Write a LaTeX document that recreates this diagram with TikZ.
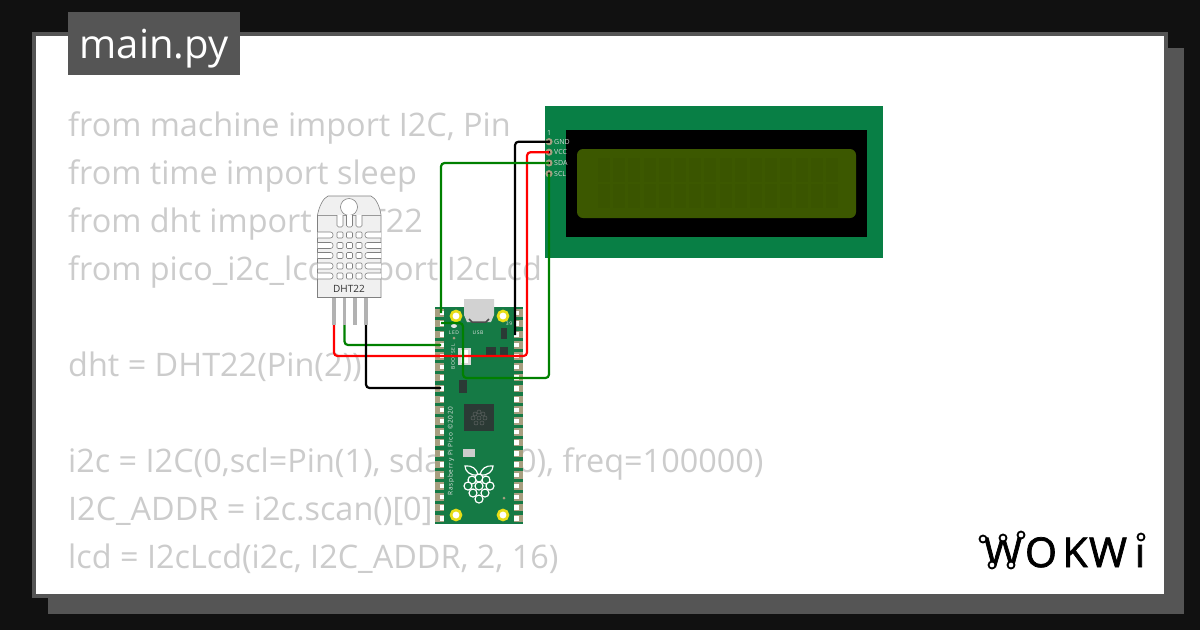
\documentclass[tikz,border=0pt]{standalone}
\usepackage{fontspec}
\setmainfont{Open Sans}
\newfontfamily\logofont[FakeBold=1.8]{Open Sans}
\newfontfamily\silkfont[LetterSpace=12]{Open Sans}
\usetikzlibrary{positioning}
\definecolor{pageblack}{HTML}{111111}
\definecolor{framegray}{HTML}{555555}
\definecolor{codegray}{HTML}{CCCCCC}
\definecolor{lcdgreen}{HTML}{087F45}
\definecolor{lcdscreen}{HTML}{3C5800}
\definecolor{lcdcell}{HTML}{3A5500}
\definecolor{picogreen}{HTML}{157A45}
\definecolor{padtan}{HTML}{A89F80}
\definecolor{chipdark}{HTML}{2B3A35}
\definecolor{wiregreen}{HTML}{008000}
\tikzset{
    codeline/.style={
                anchor=base west,
                inner sep=0pt,
                text=codegray,
                font=\fontsize{32.4}{32.4}\selectfont
            },
    wire/.style={
                line width=2.2pt,
                rounded corners=3.5pt
            },
    pinlabel/.style={
                anchor=west,
                inner sep=0pt,
                text=white!85!black,
                font=\fontsize{7}{7}\selectfont
            },
    silk/.style={
                inner sep=0pt,
                text=white!90!black,
                font=\silkfont\fontsize{5}{5}\selectfont
            },
    chip/.style={fill=chipdark,draw=none},
    mounthole/.style={circle,draw=yellow!90!black,fill=white,line width=2.6pt,minimum size=10pt,inner sep=0pt},
    logoletter/.style={inner sep=0pt,anchor=base,text=black,font=\logofont\fontsize{41}{41}\selectfont},
    logodot/.style={circle,draw=black,fill=white,line width=1.8pt,minimum size=7pt,inner sep=0pt},
    berry/.style={draw=white,fill=picogreen,line width=1.2pt},
}

\begin{document}
\begin{tikzpicture}[x=1pt,y=-1pt]
  \useasboundingbox (0,0) rectangle (1200,630);
  % Frame
  \fill[pageblack] (0,0) rectangle (1200,630);
  \fill[framegray] (48,48) rectangle (1184,614);
  \draw[framegray,fill=white,line width=4pt] (34,34) rectangle (1166,596);
  \fill[framegray] (68,12) rectangle (240,75);
  \node[anchor=base,inner sep=0pt,text=white,font=\fontsize{40}{40}\selectfont] (tabname) at (154,58) {main.py};
  % Code
  \node[codeline] (code1) at (68,136) {from machine import I2C, Pin};
  \node[codeline] (code2) at (68,184) {from time import sleep};
  \node[codeline] (code3) at (68,232) {from dht import DHT22};
  \node[codeline] (code4) at (68,280) {from pico\_i2c\_lcd import I2cLcd};
  \node[codeline] (code6) at (68,376) {dht = DHT22(Pin(2))};
  \node[codeline] (code9) at (68,472) {i2c = I2C(0,scl=Pin(1), sda=Pin(0), freq=100000)};
  \node[codeline] (code10) at (68,520) {I2C\_ADDR = i2c.scan()[0]};
  \node[codeline] (code11) at (68,568) {lcd = I2cLcd(i2c, I2C\_ADDR, 2, 16)};
  % LCD
  \fill[lcdgreen] (545,106) rectangle (883,258);
  \fill[black] (566,130) rectangle (867,237);
  \fill[lcdscreen,rounded corners=6pt] (577,149) rectangle (856,218);
  \foreach \col in {0,...,15}
    \foreach \row in {0,1}
      \fill[lcdcell] (598+\col*15.2,158+\row*25.5) rectangle ++(12,24);
  \node[pinlabel] (lcdOne) at (547,133) {1};
  \foreach \pin/\ypos/\name in {Gnd/141.7/GND,Vcc/152.2/VCC,Sda/163/SDA,Scl/173.7/SCL}{
      \draw[padtan,fill=black,line width=2pt] (549,\ypos) circle (2.5pt);
      \coordinate (lcd\pin) at (549,\ypos);
      \node[pinlabel] (label\pin) at (554,\ypos) {\name};
    }
  % DHT22
  \foreach \xpos in {334,344.5,355,366}
    \fill[gray!60] (\xpos-1.7,298) rectangle (\xpos+1.7,325);
  \draw[gray,fill=white!94!black,line width=.6pt] (317.5,297.5) -- (317.5,215) .. controls (319,207) and (323,198) .. (328,196) -- (371,196) .. controls (376,198) and (380,207) .. (381,215) -- (381,297.5) -- cycle;
  \draw[gray!80,line width=.6pt] (317.5,215) -- (381,215);
  \draw[gray,fill=white,line width=.6pt] (349,207) circle (8.5pt);
  \foreach \xpos in {340,349.5,359}
    \draw[gray,fill=white,line width=.6pt,rounded corners=1.5pt] (\xpos-3,215) -- (\xpos-3,227) -- (\xpos+3,227) -- (\xpos+3,215);
  \foreach \ypos in {235,245.5,255.5,266,276}{
      \foreach \xpos in {340,349.5,359}
        \draw[gray,fill=white,line width=.6pt,rounded corners=1pt] (\xpos-3,\ypos-3) rectangle (\xpos+3,\ypos+3);
      \draw[gray,fill=white,line width=.6pt,rounded corners=2.5pt] (317.5,\ypos-3) -- (333,\ypos-3) -- (333,\ypos+3) -- (317.5,\ypos+3);
      \draw[gray,fill=white,line width=.6pt,rounded corners=2.5pt] (381,\ypos-3) -- (365,\ypos-3) -- (365,\ypos+3) -- (381,\ypos+3);
    }
  \node[inner sep=0pt,text=black!80,font=\fontsize{10}{10}\selectfont] (dhtname) at (349,289) {DHT22};
  \coordinate (dhtVcc) at (334,325);
  \coordinate (dhtSda) at (344.5,325);
  \coordinate (dhtGnd) at (366,325);
  % Pico
  \fill[picogreen] (435,307) rectangle (522.5,524);
  \fill[gray!35] (464,299) -- (494,299) -- (494,315) -- (491,322) -- (467,322) -- (464,315) -- cycle;
  \draw[black!70,line width=1.5pt] (469,319) -- (472,322) -- (486,322) -- (489,319);
  \foreach \k in {0,...,19}{
      \fill[padtan] (434.5,312.7+\k*10.83-3.8) rectangle (444,312.7+\k*10.83+3.8);
      \fill[white] (440,312.7+\k*10.83-2.2) rectangle (444,312.7+\k*10.83+2.2);
      \fill[padtan] (514,312.7+\k*10.83-3.8) rectangle (523,312.7+\k*10.83+3.8);
      \fill[white] (514,312.7+\k*10.83-2.2) rectangle (518.5,312.7+\k*10.83+2.2);
    }
  \node[mounthole] (holeA) at (456,316) {};
  \node[mounthole] (holeB) at (503,316) {};
  \node[mounthole] (holeC) at (456,515) {};
  \node[mounthole] (holeD) at (503,515) {};
  \fill[chip] (501,328) rectangle (507,339);
  \fill[chip] (486,347) rectangle (496,355);
  \fill[chip] (500,347) rectangle (508,355);
  \fill[chip] (459,380) rectangle (467,393);
  \fill[chip] (464,404) rectangle (494,431);
  \foreach \bx/\by in {479/412,475/414,483/414,473/418,479/418,485/418,476/423,482/423}
    \draw[gray!60!chipdark,line width=.5pt] (\bx,\by) circle (2pt);
  \fill[gray!30] (458,348) rectangle (471,365);
  \fill[white] (461,350) rectangle (468,363);
  \fill[gray!40] (463,449) rectangle (475,457);
  \fill[white!90!black] (454,326) ellipse (3pt and 2pt);
  \fill[padtan] (454,338) circle (1.5pt);
  \fill[padtan] (504,498) circle (1.5pt);
  \node[silk] (ledtext) at (454,333) {LED};
  \node[silk] (usbtext) at (478,333) {USB};
  \node[silk] (pintext) at (509,324) {39};
  \node[silk,rotate=90] (bootsel) at (453,357) {BOOTSEL};
  \node[silk,rotate=90,font=\silkfont\fontsize{6.5}{6.5}\selectfont] (picotext) at (451,451) {Raspberry Pi Pico ©2020};
  % Raspberry
  \draw[white,line width=1.2pt] (478,475) .. controls (470,476) and (465,471) .. (465,466) .. controls (472,465) and (477,469) .. (478,475);
  \draw[white,line width=1.2pt] (480,475) .. controls (488,476) and (493,471) .. (493,466) .. controls (486,465) and (481,469) .. (480,475);
  \foreach \bx/\by in {479/478,472/480,486/480,468/486,479/486,490/486,473/493,485/493,479/499}
    \draw[berry] (\bx,\by) circle (4pt);
  % Wires
  \coordinate (picoGnd) at (515,335);
  \coordinate (picoSda) at (441,313);
  \coordinate (picoScl) at (441,323);
  \coordinate (picoDhtSda) at (441,345);
  \coordinate (picoDhtGnd) at (441,388);
  \coordinate (redTurn) at (527,356);
  \coordinate (sclTurnA) at (463,323);
  \coordinate (sclTurnB) at (463,378);
  \draw[wire,black] (lcdGnd) -| (picoGnd);
  \draw[wire,red] (dhtVcc) |- (redTurn) |- (lcdVcc);
  \draw[wire,wiregreen] (lcdSda) -| (picoSda);
  \draw[wire,wiregreen] (lcdScl) |- (sclTurnB) -- (sclTurnA) -- (picoScl);
  \draw[wire,wiregreen] (dhtSda) |- (picoDhtSda);
  \draw[wire,black] (dhtGnd) |- (picoDhtGnd);
  % Logo
  \node[logoletter] (logoW) at (1003,567) {W};
  \node[logoletter] (logoO) at (1041,567) {O};
  \node[logoletter] (logoK) at (1075,567) {K};
  \node[logoletter] (logoWb) at (1108,567) {W};
  \node[logoletter] (logoI) at (1140,567) {ı};
  \foreach \dx/\dy in {983/539,1003/538,1021/535,992/565,1011/565,1141/537}
    \node[logodot] at (\dx,\dy) {};
\end{tikzpicture}
\end{document}
